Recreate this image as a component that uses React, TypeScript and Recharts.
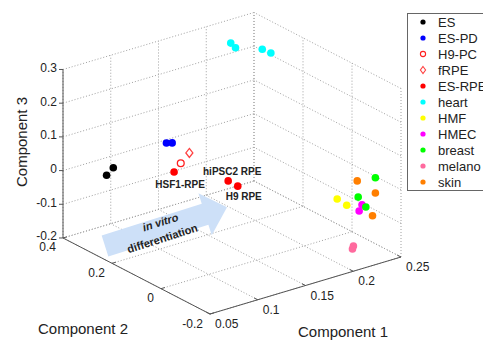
import { ScatterChart, Scatter, XAxis, YAxis, ReferenceLine } from "recharts";

const W = 483;
const H = 340;

// axis ticks (component 1, 2, 3)
const c1Ticks = [0.05, 0.1, 0.15, 0.2, 0.25];
const c2Ticks = [-0.2, 0, 0.2, 0.4];
const c3Ticks = [-0.2, -0.1, 0, 0.1, 0.2, 0.3];

// points: [component 1, component 2, component 3]
const ES = [[0.07, 0.3, 0.007], [0.077, 0.3, 0.023]];
const ES_PD = [[0.107, 0.2, 0.109], [0.113, 0.2, 0.104]];
const H9_PC = [[0.122, 0.2, 0.036]];
const fRPE = [[0.131, 0.2, 0.059]];
const ES_RPE = [[0.115, 0.2, 0.016], [0.146, 0.1, 0.001], [0.156, 0.1, -0.023]];
const heart = [[0.2, 0.3, 0.289], [0.205, 0.3, 0.271], [0.233, 0.3, 0.243], [0.242, 0.3, 0.224]];
const HMF = [[0.196, -0.15, -0.001], [0.206, -0.15, -0.028]];
const HMEC = [[0.222, -0.15, -0.04], [0.219, -0.15, -0.056]];
const breast = [[0.236, -0.15, 0.028], [0.218, -0.15, -0.014], [0.226, -0.15, -0.05]];
const melano = [[0.213, -0.15, -0.155], [0.212, -0.15, -0.163]];
const skin = [[0.217, -0.15, 0.035], [0.236, -0.15, -0.017], [0.233, -0.15, -0.082]];

const rpeLabels = ["HSF1-RPE", "hiPSC2 RPE", "H9 RPE"];
const rpeLabelOffsets = [[6, 12], [4, -9], [6, 10]];

const groups = [
  { name: "ES", pts: ES, color: "#000000", mark: "dot" },
  { name: "ES-PD", pts: ES_PD, color: "#0000ff", mark: "dot" },
  { name: "H9-PC", pts: H9_PC, color: "#ff2020", mark: "circle" },
  { name: "fRPE", pts: fRPE, color: "#ff4040", mark: "diamond" },
  { name: "ES-RPE", pts: ES_RPE, color: "#ff0000", mark: "dot" },
  { name: "heart", pts: heart, color: "#00ffff", mark: "dot" },
  { name: "HMF", pts: HMF, color: "#ffff00", mark: "dot" },
  { name: "HMEC", pts: HMEC, color: "#ff00ff", mark: "dot" },
  { name: "breast", pts: breast, color: "#00ff00", mark: "dot" },
  { name: "melano", pts: melano, color: "#ff6a9e", mark: "dot" },
  { name: "skin", pts: skin, color: "#ff7f00", mark: "dot" },
];

const lo1 = c1Ticks[0], hi1 = c1Ticks[c1Ticks.length - 1];
const lo2 = c2Ticks[0], hi2 = c2Ticks[c2Ticks.length - 1];
const lo3 = c3Ticks[0], hi3 = c3Ticks[c3Ticks.length - 1];

// oblique 3D -> screen projection (MATLAB-like view)
const proj = (a: number, b: number, c: number) => ({
  x: 210 + (a - lo1) * 955 - (b - lo2) * 245,
  y: 314 - (a - lo1) * 285 - (b - lo2) * 126.7 - (c - lo3) * 337,
});

type Pt = { x: number; y: number };
const grid: [Pt, Pt][] = [];
c3Ticks.forEach((t) => {
  grid.push([proj(lo1, hi2, t), proj(hi1, hi2, t)]);
  grid.push([proj(hi1, lo2, t), proj(hi1, hi2, t)]);
});
c1Ticks.forEach((t) => {
  grid.push([proj(t, hi2, lo3), proj(t, hi2, hi3)]);
  grid.push([proj(t, lo2, lo3), proj(t, hi2, lo3)]);
});
c2Ticks.forEach((t) => {
  grid.push([proj(hi1, t, lo3), proj(hi1, t, hi3)]);
  grid.push([proj(lo1, t, lo3), proj(hi1, t, lo3)]);
});

const axes: [Pt, Pt][] = [
  [proj(lo1, hi2, lo3), proj(lo1, hi2, hi3)],
  [proj(lo1, hi2, lo3), proj(lo1, lo2, lo3)],
  [proj(lo1, lo2, lo3), proj(hi1, lo2, lo3)],
];

const tickMarks: [Pt, Pt][] = [];
c3Ticks.forEach((t) => {
  const p = proj(lo1, hi2, t);
  tickMarks.push([p, { x: p.x - 4, y: p.y }]);
});
c2Ticks.forEach((t) => {
  const p = proj(lo1, t, lo3);
  tickMarks.push([p, { x: p.x + 3.8, y: p.y - 1.1 }]);
});
c1Ticks.forEach((t) => {
  const p = proj(t, lo2, lo3);
  tickMarks.push([p, { x: p.x - 3.6, y: p.y - 1.8 }]);
});

const texts: any[] = [];
c3Ticks.forEach((t) => {
  const p = proj(lo1, hi2, t);
  texts.push({ ...p, label: String(t), anchor: "end", dx: -6, dy: -1.5, size: 12 });
});
c2Ticks.forEach((t) => {
  const p = proj(lo1, t, lo3);
  texts.push({ ...p, label: String(t), anchor: "end", dx: -7, dy: 9.5, size: 12 });
});
c1Ticks.forEach((t) => {
  const p = proj(t, lo2, lo3);
  texts.push({ ...p, label: String(t), anchor: "start", dx: 5, dy: 10, size: 12 });
});
ES_RPE.forEach((v, i) => {
  const p = proj(v[0], v[1], v[2]);
  texts.push({
    ...p, label: rpeLabels[i], anchor: "middle",
    dx: rpeLabelOffsets[i][0], dy: rpeLabelOffsets[i][1], size: 10, bold: true,
  });
});

const axisTitles = [
  { x: 21, y: 142, label: "Component 3", rot: -90 },
  { x: 83, y: 328, label: "Component 2", rot: 0 },
  { x: 343, y: 331, label: "Component 1", rot: 0 },
];

const arrowAnchor = [{ x: 105, y: 246 }];

const TextShape = (p: any) => {
  const d = p.payload;
  return (
    <text
      x={p.cx + d.dx}
      y={p.cy + d.dy}
      textAnchor={d.anchor}
      dominantBaseline="central"
      fontSize={d.size}
      fontWeight={d.bold ? 700 : 400}
      fill="#222"
      fontFamily="'Liberation Sans', Arial, sans-serif"
    >
      {d.label}
    </text>
  );
};

const TitleShape = (p: any) => (
  <text
    x={p.cx}
    y={p.cy}
    textAnchor="middle"
    dominantBaseline="central"
    fontSize={15}
    fill="#222"
    fontFamily="'Liberation Sans', Arial, sans-serif"
    transform={p.payload.rot ? `rotate(${p.payload.rot} ${p.cx} ${p.cy})` : undefined}
  >
    {p.payload.label}
  </text>
);

const ArrowShape = (p: any) => (
  <g transform={`translate(${p.cx} ${p.cy}) rotate(-17.6)`}>
    <polygon points="0,-11 105,-11 105,-22 128,0 105,22 105,11 0,11" fill="#cde0f8" />
    <text x={60} y={-6} textAnchor="middle" dominantBaseline="central" fontSize={11}
      fontWeight={700} fontStyle="italic" fill="#222" fontFamily="'Liberation Sans', Arial, sans-serif">
      in vitro
    </text>
    <text x={57} y={10} textAnchor="middle" dominantBaseline="central" fontSize={11}
      fontWeight={700} fill="#222" fontFamily="'Liberation Sans', Arial, sans-serif">
      differentiation
    </text>
  </g>
);

const markerShape = (g: any) => (p: any) => {
  if (g.mark === "circle")
    return <circle cx={p.cx} cy={p.cy} r={3.4} fill="none" stroke={g.color} strokeWidth={1.3} />;
  if (g.mark === "diamond")
    return (
      <polygon
        points={`${p.cx},${p.cy - 4.5} ${p.cx + 3.5},${p.cy} ${p.cx},${p.cy + 4.5} ${p.cx - 3.5},${p.cy}`}
        fill="none" stroke={g.color} strokeWidth={1.3}
      />
    );
  return <circle cx={p.cx} cy={p.cy} r={3.8} fill={g.color} />;
};

const LegendMarker = ({ g }: any) => (
  <svg width={10} height={10} style={{ display: "block" }}>
    {g.mark === "circle" ? (
      <circle cx={5} cy={5} r={2.6} fill="none" stroke={g.color} strokeWidth={1.1} />
    ) : g.mark === "diamond" ? (
      <polygon points="5,1.5 7.6,5 5,8.5 2.4,5" fill="none" stroke={g.color} strokeWidth={1.1} />
    ) : (
      <circle cx={5} cy={5} r={2.6} fill={g.color} />
    )}
  </svg>
);

export default function App() {
  return (
    <div
      style={{
        position: "absolute", left: 0, top: 0, width: W, height: H, overflow: "hidden",
        background: "#fff", fontFamily: "'Liberation Sans', Arial, sans-serif",
      }}
    >
      <ScatterChart width={W} height={H} margin={{ top: 0, right: 0, bottom: 0, left: 0 }}>
        <XAxis type="number" dataKey="x" domain={[0, W]} hide allowDataOverflow />
        <YAxis type="number" dataKey="y" domain={[0, H]} reversed hide allowDataOverflow />
        {grid.map((s, i) => (
          <ReferenceLine key={"g" + i} segment={s} stroke="#a0a0a0" strokeDasharray="1 2" ifOverflow="visible" />
        ))}
        {axes.map((s, i) => (
          <ReferenceLine key={"a" + i} segment={s} stroke="#555" strokeWidth={1} ifOverflow="visible" />
        ))}
        {tickMarks.map((s, i) => (
          <ReferenceLine key={"t" + i} segment={s} stroke="#555" strokeWidth={1} ifOverflow="visible" />
        ))}
        <Scatter data={arrowAnchor} shape={ArrowShape} isAnimationActive={false} />
        {groups.map((g) => (
          <Scatter
            key={g.name}
            name={g.name}
            data={g.pts.map((v) => proj(v[0], v[1], v[2]))}
            shape={markerShape(g)}
            isAnimationActive={false}
          />
        ))}
        <Scatter data={texts} shape={TextShape} isAnimationActive={false} />
        <Scatter data={axisTitles} shape={TitleShape} isAnimationActive={false} />
      </ScatterChart>
      <div
        style={{
          position: "absolute", left: 407, top: 13, width: 100, border: "1px solid #666",
          background: "#fff", boxSizing: "border-box",
        }}
      >
        {groups.map((g) => (
          <div key={g.name} style={{ display: "flex", alignItems: "center", height: 16, fontSize: 13, color: "#222" }}>
            <div style={{ width: 30, display: "flex", justifyContent: "center", paddingLeft: 0 }}>
              <LegendMarker g={g} />
            </div>
            <span>{g.name}</span>
          </div>
        ))}
      </div>
    </div>
  );
}
